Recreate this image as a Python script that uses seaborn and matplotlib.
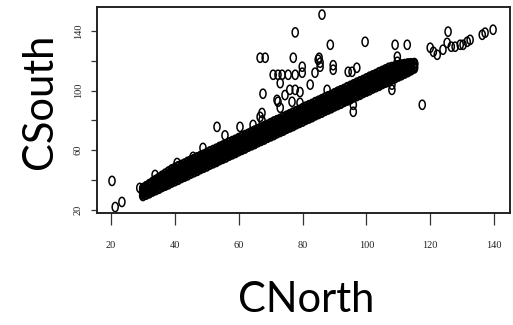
import numpy as np
import pandas as pd
import seaborn as sns
import matplotlib
matplotlib.use("Agg")
import matplotlib.pyplot as plt
from matplotlib.path import Path

# ---------------- data ----------------
band_x = [30, 31, 32, 33, 34, 35, 36, 37, 38, 39,
          40, 41, 42, 43, 44, 45, 46, 47, 48, 49,
          50, 51, 52, 53, 54, 55, 56, 57, 58, 59,
          60, 61, 62, 63, 64, 65, 66, 67, 68, 69,
          70, 71, 72, 73, 74, 75, 76, 77, 78, 79,
          80, 81, 82, 83, 84, 85, 86, 87, 88, 89,
          90, 91, 92, 93, 94, 95, 96, 97, 98, 99,
          100, 101, 102, 103, 104, 105, 106, 107, 108, 109,
          110, 111, 112, 113, 114, 115]
band_lo2 = [29.6, 30.5, 31.4, 32.6, 33.5, 34.4, 35.6, 36.5, 37.4, 38.6,
            39.5, 40.4, 41.6, 42.5, 43.4, 44.6, 45.5, 46.4, 47.6, 48.5,
            49.4, 50.6, 51.5, 52.4, 53.6, 54.5, 55.4, 56.6, 57.5, 58.4,
            59.6, 60.5, 61.4, 62.6, 63.5, 64.4, 65.6, 66.5, 67.4, 68.6,
            69.5, 70.4, 71.6, 72.5, 73.4, 74.6, 75.5, 76.4, 77.6, 78.5,
            79.4, 80.6, 81.5, 82.4, 83.6, 84.5, 85.4, 86.6, 87.5, 88.4,
            89.6, 90.5, 91.4, 92.6, 93.5, 94.4, 95.6, 96.5, 97.4, 98.6,
            99.5, 100.4, 101.6, 102.5, 103.4, 104.6, 105.5, 106.4, 107.6, 108.5,
            109.6, 110.5, 111.6, 112.6, 113.8, 115.0]
band_lo = [31.0, 32.2, 33.1, 33.8, 35.2, 36.0, 37.3, 38.0, 38.9, 40.2,
           41.1, 42.0, 43.2, 44.0, 44.9, 46.2, 47.0, 48.1, 49.2, 50.0,
           51.0, 52.3, 53.1, 53.9, 55.2, 56.0, 57.1, 58.3, 59.0, 59.9,
           61.2, 62.0, 63.1, 64.2, 65.0, 65.9, 67.2, 68.1, 69.0, 70.2,
           71.0, 72.1, 73.2, 74.0, 74.9, 76.2, 77.1, 78.0, 79.2, 80.0,
           81.1, 82.2, 83.0, 83.9, 85.1, 86.2, 87.0, 88.1, 89.0, 90.2,
           91.1, 92.0, 93.2, 94.1, 94.9, 96.2, 97.0, 98.1, 99.2, 100.0,
           101.1, 102.0, 103.2, 104.1, 105.0, 106.2, 107.0, 108.1, 109.0, 110.2,
           111.0, 112.1, 113.2, 114.0, 115.1, 116.0]
band_mid = [32.5, 33.6, 34.7, 35.8, 36.9, 38.0, 39.2, 40.3, 41.4, 42.5,
            43.5, 44.6, 45.5, 46.4, 47.5, 48.6, 49.5, 50.4, 51.5, 52.6,
            53.5, 54.4, 55.5, 56.6, 57.5, 58.4, 59.5, 60.6, 61.5, 62.4,
            63.5, 64.6, 65.5, 66.4, 67.5, 68.6, 69.5, 70.4, 71.5, 72.6,
            73.5, 74.4, 75.5, 76.6, 77.5, 78.4, 79.5, 80.6, 81.5, 82.4,
            83.5, 84.6, 85.5, 86.4, 87.5, 88.6, 89.5, 90.4, 91.5, 92.6,
            93.5, 94.4, 95.5, 96.6, 97.5, 98.4, 99.5, 100.6, 101.5, 102.4,
            103.5, 104.6, 105.5, 106.4, 107.5, 108.6, 109.5, 110.4, 111.5, 112.6,
            113.5, 114.5, 115.5, 116.3, 117.0, 117.6]
band_hi = [33.5, 35.0, 36.4, 37.6, 38.8, 40.0, 41.3, 42.5, 43.6, 44.8,
           46.0, 47.1, 48.0, 48.9, 50.1, 51.0, 52.0, 53.1, 54.0, 54.9,
           56.0, 57.1, 58.0, 58.9, 60.1, 61.0, 62.0, 63.1, 64.0, 64.9,
           66.0, 67.1, 68.0, 68.9, 70.1, 71.0, 72.0, 73.1, 74.0, 74.9,
           76.0, 77.1, 78.0, 78.9, 80.1, 81.0, 82.0, 83.1, 84.0, 84.9,
           86.0, 87.1, 88.0, 88.9, 90.1, 91.0, 92.0, 93.1, 94.0, 94.9,
           96.0, 97.1, 98.0, 98.9, 100.1, 101.0, 102.0, 103.1, 104.0, 104.9,
           106.0, 107.1, 108.0, 108.9, 110.1, 111.0, 112.0, 113.1, 114.0, 114.9,
           116.0, 117.0, 117.4, 117.8, 118.0, 118.2]
band_hi2 = [34.5, 35.8, 37.2, 38.6, 40.0, 41.4, 42.8, 44.2, 45.6, 47.0,
            48.0, 49.1, 50.0, 50.9, 52.1, 53.0, 54.0, 55.1, 56.0, 56.9,
            58.0, 59.1, 60.0, 60.9, 62.1, 63.0, 64.0, 65.1, 66.0, 66.9,
            68.0, 69.1, 70.0, 70.9, 72.1, 73.0, 74.0, 75.1, 76.0, 76.9,
            78.0, 79.1, 80.0, 80.9, 82.1, 83.0, 84.0, 85.1, 86.0, 86.9,
            88.0, 89.1, 90.0, 90.9, 92.1, 93.0, 94.0, 95.1, 96.0, 96.9,
            98.0, 99.1, 100.0, 100.9, 102.1, 103.0, 104.0, 105.1, 106.0, 106.9,
            108.0, 109.1, 110.0, 110.9, 112.1, 113.0, 114.0, 115.1, 115.6, 116.0,
            116.8, 117.2, 117.6, 117.9, 118.1, 118.2]

# scattered points away from the dense band
other_x = [20.3, 21.3, 23.4, 29.0, 30.0, 33.8, 40.7, 45.7, 48.8, 53.2,
           55.7, 60.4, 64.5, 67.3, 66.7,
           86.1, 77.7, 88.7, 99.6, 109.0, 112.8, 77.1,
           66.7, 68.3, 85.2, 84.9, 85.5, 85.5, 89.6, 89.6,
           70.8, 72.3, 73.6, 75.5, 77.7, 79.9, 79.9, 83.9, 94.3, 95.5, 97.0,
           105.0, 109.7, 109.7,
           73.0, 67.6, 74.5, 77.7, 79.2, 72.3, 73.0, 76.7, 79.2, 82.4,
           87.7, 90.8, 67.3, 72.0, 76.0,
           95.9, 95.9, 108.0, 108.0, 117.5,
           120.0, 121.0, 122.2, 124.0, 125.3, 125.6, 126.6, 127.8, 129.4,
           130.3, 131.6, 132.5, 136.3, 137.2, 139.7]
other_y = [39.5, 22.0, 25.4, 34.8, 32.0, 43.5, 51.5, 55.6, 61.6, 75.7,
           70.0, 75.7, 77.0, 80.0, 82.4,
           150.9, 139.0, 130.7, 132.7, 130.7, 130.7, 122.0,
           122.0, 122.0, 122.0, 120.7, 118.7, 116.0, 117.0, 114.0,
           110.6, 110.6, 110.6, 110.6, 110.6, 116.0, 112.0, 112.0, 112.6, 112.6, 115.3,
           112.6, 122.7, 119.3,
           105.0, 97.9, 97.0, 100.5, 99.0, 92.5, 88.5, 92.5, 91.8, 104.0,
           100.5, 98.0, 85.0, 93.8, 100.5,
           90.5, 85.8, 104.0, 100.5, 90.5,
           128.7, 126.0, 124.0, 127.4, 132.0, 139.5, 129.4, 129.4, 130.7,
           130.7, 132.7, 134.0, 137.4, 138.8, 140.8]

x_ticks = [20, 40, 60, 80, 100, 120, 140]
y_ticks = [20, 40, 60, 80, 100, 120, 140]
y_tick_labels = ["20", "", "60", "", "100", "", "140"]

df_band = pd.DataFrame({
    "CNorth": band_x * 5,
    "CSouth": band_lo2 + band_lo + band_mid + band_hi + band_hi2,
})
df_other = pd.DataFrame({"CNorth": other_x, "CSouth": other_y})

# ---------------- figure ----------------
sns.set_style("ticks")
W, H = 513, 325
fig = plt.figure(figsize=(W / 100, H / 100), dpi=100)
ax = fig.add_axes([97 / W, 1 - 213 / H, (510 - 97) / W, (213 - 7) / H])

t = np.linspace(0, 2 * np.pi, 41)
ell = Path(np.column_stack([0.33 * np.cos(t), 0.5 * np.sin(t)]), closed=True)

sns.scatterplot(data=df_band, x="CNorth", y="CSouth", marker=ell, s=44,
                facecolor="none", edgecolor="black", linewidth=1.5, ax=ax,
                legend=False)
sns.scatterplot(data=df_other, x="CNorth", y="CSouth", marker=ell, s=44,
                facecolor="none", edgecolor="black", linewidth=1.1, ax=ax,
                legend=False)

ax.set_xlim(15.6, 145)
ax.set_ylim(18, 156)
ax.set_xticks(x_ticks)
ax.set_xticklabels([str(v) for v in x_ticks], family="Liberation Serif",
                   fontsize=7.5, color="#222222")
ax.set_yticks(y_ticks)
ax.set_yticklabels(y_tick_labels, family="Liberation Serif", fontsize=7.5,
                   color="#222222", rotation=90, va="center")
ax.tick_params(axis="x", length=8.5, width=0.9, pad=12, color="#333333")
ax.tick_params(axis="y", length=4.3, width=0.9, pad=6, color="#333333")
for sp in ax.spines.values():
    sp.set_visible(True)
    sp.set_linewidth(1.4)
    sp.set_color("#222222")
ax.set_xlabel("")
ax.set_ylabel("")

fig.text(306 / W, 1 - 300 / H, "CNorth", ha="center", va="center",
         family="Lato", fontsize=30, color="black")
fig.text(40 / W, 1 - 101 / H, "CSouth", ha="center", va="center",
         family="Lato", fontsize=30, color="black", rotation=90)

fig.savefig("out.png", dpi=100)
